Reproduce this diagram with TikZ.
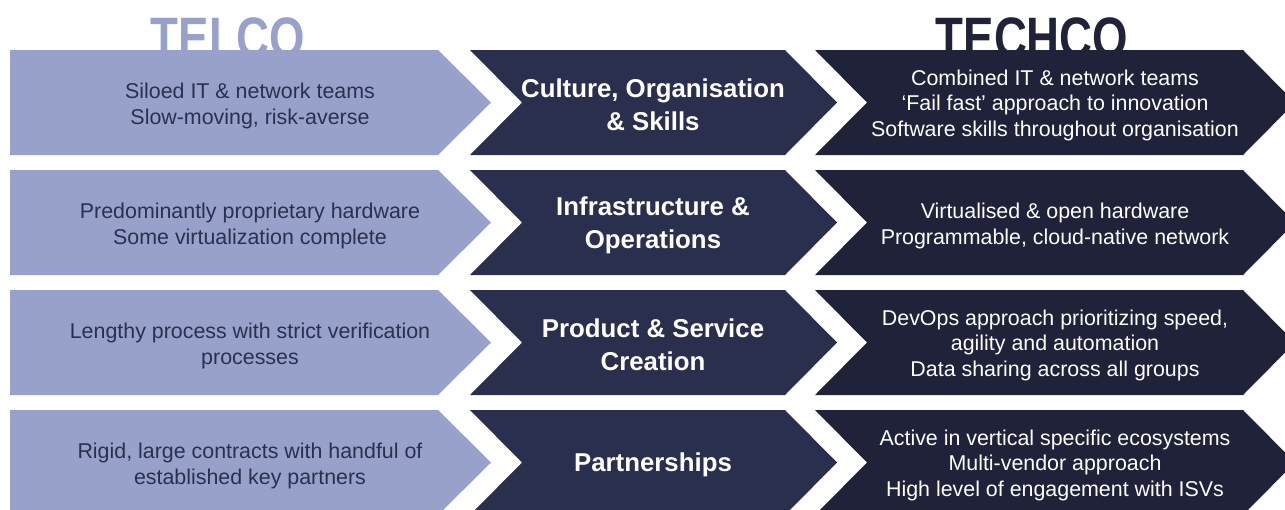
\documentclass[tikz,border=0pt]{standalone}
\usepackage{fontspec}
\setmainfont{Liberation Sans}
\usepackage{tikz}

\definecolor{telco}{HTML}{97A1CA}
\definecolor{telcotext}{HTML}{2B3050}
\definecolor{area}{HTML}{2A2F4D}
\definecolor{techco}{HTML}{1F2238}

\begin{document}
\begin{tikzpicture}
  [x=1pt,y=-1pt,
   title/.style={anchor=base,xscale=0.8,font=\bfseries\fontsize{57}{57}\selectfont},
   oldtext/.style={align=center,text=telcotext,font=\fontsize{21.4}{26}\selectfont},
   areatext/.style={align=center,text=white,font=\bfseries\fontsize{25.8}{33}\selectfont},
   newtext/.style={align=center,text=white,font=\fontsize{21.4}{25.5}\selectfont}]

  \useasboundingbox (0,0) rectangle (1285,509);

  \node[title,text=telco] (telco) at (228,57) {TELCO};
  \node[title,text=techco] (techco) at (1032,57) {TECHCO};

  % one row of arrows every 120px
  \foreach \t in {50,170,290,410} {
    \fill[telco] (10,\t) -- (438,\t) -- (491,\t+52.5) -- (438,\t+105) -- (10,\t+105) -- cycle;
    \fill[area] (470,\t) -- (785,\t) -- (837,\t+52.5) -- (785,\t+105) -- (470,\t+105) -- (522,\t+52.5) -- cycle;
    \fill[techco] (815,\t) -- (1243,\t) -- (1295,\t+52.5) -- (1243,\t+105) -- (815,\t+105) -- (867,\t+52.5) -- cycle;
  }

  \node[oldtext] (old1) at (250,106) {Siloed IT \& network teams\\Slow-moving, risk-averse};
  \node[areatext] (area1) at (653,105) {Culture, Organisation\\\& Skills};
  \node[newtext] (new1) at (1055,105) {Combined IT \& network teams\\‘Fail fast’ approach to innovation\\Software skills throughout organisation};

  \node[oldtext] (old2) at (250,226) {Predominantly proprietary hardware\\Some virtualization complete};
  \node[areatext] (area2) at (653,225) {Infrastructure \&\\Operations};
  \node[newtext] (new2) at (1055,226) {Virtualised \& open hardware\\Programmable, cloud-native network};

  \node[oldtext] (old3) at (250,346) {Lengthy process with strict verification\\processes};
  \node[areatext] (area3) at (653,345) {Product \& Service\\Creation};
  \node[newtext] (new3) at (1055,345) {DevOps approach prioritizing speed,\\agility and automation\\Data sharing across all groups};

  \node[oldtext] (old4) at (250,466) {Rigid, large contracts with handful of\\established key partners};
  \node[areatext] (area4) at (653,465) {Partnerships};
  \node[newtext] (new4) at (1055,465) {Active in vertical specific ecosystems\\Multi-vendor approach\\High level of engagement with ISVs};
\end{tikzpicture}
\end{document}
